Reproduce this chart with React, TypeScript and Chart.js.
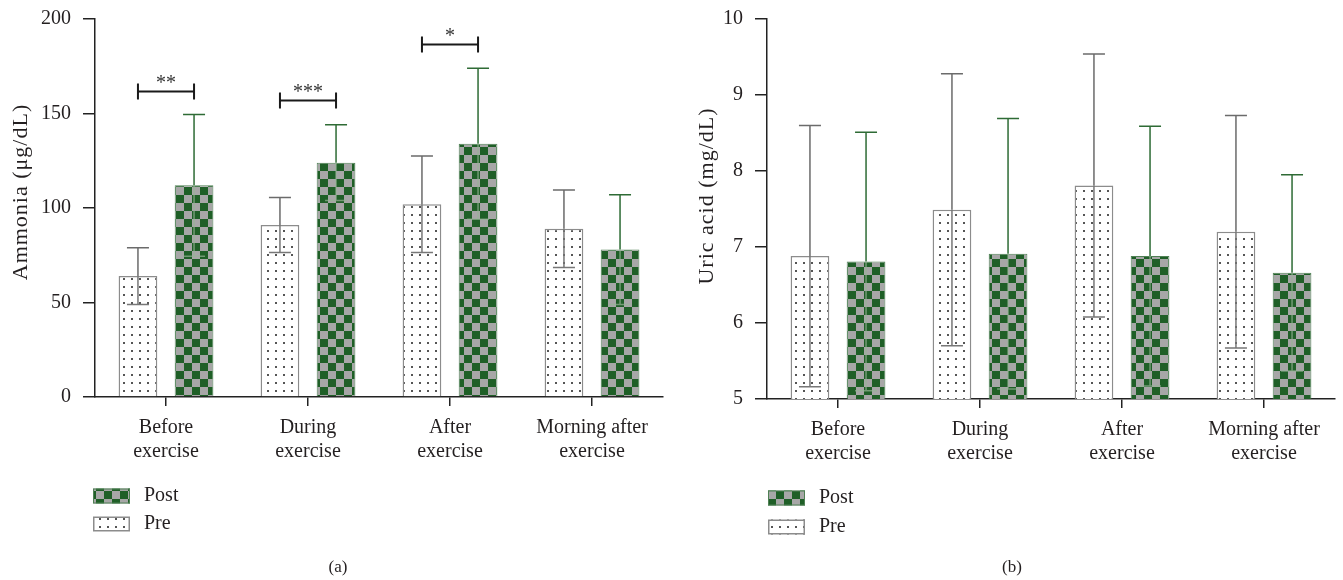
import React, { useEffect, useRef } from "react";
import { Chart, registerables } from "chart.js";
Chart.register(...registerables);

const FONT = '"Liberation Serif", "DejaVu Serif", serif';
const TXT = "#231f20";
const SHIFT = 5; // canvas is placed 5px above the page top

const categories = [
  ["Before", "exercise"],
  ["During", "exercise"],
  ["After", "exercise"],
  ["Morning after", "exercise"],
];

const ammoniaPre = [64, 91, 102, 89];
const ammoniaPreSD = [15, 14.5, 25.5, 20.5];
const ammoniaPost = [112, 124, 134, 78];
const ammoniaPostSD = [37.5, 20, 40, 29];
const ammoniaSigLabels = ["**", "***", "*", ""];
const ammoniaSigY = [162, 157, 187, 0];
const ammoniaTicks = [0, 50, 100, 150, 200];

const uricPre = [6.88, 7.49, 7.81, 7.2];
const uricPreSD = [1.72, 1.79, 1.73, 1.53];
const uricPost = [6.81, 6.91, 6.88, 6.66];
const uricPostSD = [1.7, 1.78, 1.71, 1.29];
const uricTicks = [5, 6, 7, 8, 9, 10];

const legendLabels = ["Post", "Pre"];

function makeChecker(): CanvasPattern | string {
  const c = document.createElement("canvas");
  c.width = 16;
  c.height = 16;
  const g = c.getContext("2d");
  if (!g) return "#1f5f27";
  g.fillStyle = "#1f5f27";
  g.fillRect(0, 0, 16, 16);
  g.fillStyle = "#a7a7a7";
  g.fillRect(0, 0, 8, 8);
  g.fillRect(8, 8, 8, 8);
  return g.createPattern(c, "repeat") || "#1f5f27";
}

function makeDots(): CanvasPattern | string {
  const c = document.createElement("canvas");
  c.width = 8;
  c.height = 8;
  const g = c.getContext("2d");
  if (!g) return "#fff";
  g.fillStyle = "#ffffff";
  g.fillRect(0, 0, 8, 8);
  g.fillStyle = "#555555";
  g.fillRect(3, 3, 2, 2);
  return g.createPattern(c, "repeat") || "#fff";
}

const errorBarPlugin = {
  id: "errorBars",
  afterDatasetsDraw(chart: any) {
    const ctx = chart.ctx;
    const ys = chart.scales.y;
    const area = chart.chartArea;
    ctx.save();
    ctx.beginPath();
    ctx.rect(area.left, 0, area.right - area.left, area.bottom);
    ctx.clip();
    chart.data.datasets.forEach((ds: any, i: number) => {
      const meta = chart.getDatasetMeta(i);
      meta.data.forEach((el: any, j: number) => {
        const v = ds.data[j];
        const e = ds.errors[j];
        const x = el.x;
        const yTop = ys.getPixelForValue(v + e);
        const yBot = ys.getPixelForValue(v - e);
        const yBar = ys.getPixelForValue(v);
        const half = 11;
        ctx.lineWidth = 1.5;
        ctx.strokeStyle = ds.errColor;
        ctx.beginPath();
        ctx.moveTo(x, yTop);
        ctx.lineTo(x, yBar);
        ctx.moveTo(x - half, yTop);
        ctx.lineTo(x + half, yTop);
        ctx.stroke();
        ctx.strokeStyle = ds.errInner;
        ctx.beginPath();
        ctx.moveTo(x, yBar);
        ctx.lineTo(x, yBot);
        ctx.moveTo(x - half, yBot);
        ctx.lineTo(x + half, yBot);
        ctx.stroke();
      });
    });
    ctx.restore();
  },
};

function makeTitlePlugin(text: string, cx: number, cy: number) {
  return {
    id: "yTitle",
    afterDraw(chart: any) {
      const ctx = chart.ctx;
      ctx.save();
      ctx.translate(cx, cy + SHIFT);
      ctx.rotate(-Math.PI / 2);
      ctx.fillStyle = TXT;
      ctx.font = `22px ${FONT}`;
      try {
        (ctx as any).letterSpacing = "1px";
      } catch (e) {}
      ctx.textAlign = "center";
      ctx.textBaseline = "middle";
      ctx.fillText(text, 0, 0);
      ctx.restore();
    },
  };
}

function makeSigPlugin(labels: string[], ys: number[]) {
  return {
    id: "sig",
    afterDatasetsDraw(chart: any) {
      const ctx = chart.ctx;
      const yScale = chart.scales.y;
      const m0 = chart.getDatasetMeta(0);
      const m1 = chart.getDatasetMeta(1);
      ctx.save();
      labels.forEach((lab, j) => {
        if (!lab) return;
        const x1 = m0.data[j].x;
        const x2 = m1.data[j].x;
        const y = Math.round(yScale.getPixelForValue(ys[j])) + 0.5;
        ctx.strokeStyle = "#1a1a1a";
        ctx.lineWidth = 2;
        ctx.beginPath();
        ctx.moveTo(x1, y);
        ctx.lineTo(x2, y);
        ctx.moveTo(x1, y - 8);
        ctx.lineTo(x1, y + 8);
        ctx.moveTo(x2, y - 8);
        ctx.lineTo(x2, y + 8);
        ctx.stroke();
        ctx.fillStyle = "#333";
        ctx.font = `20px ${FONT}`;
        ctx.textAlign = "center";
        ctx.textBaseline = "alphabetic";
        ctx.fillText(lab, (x1 + x2) / 2, y - 3);
      });
      ctx.restore();
    },
  };
}

function makeLegendPlugin(x: number, yPost0: number, yPre0: number, caption: string, capX: number) {
  return {
    id: "customLegend",
    afterDraw(chart: any) {
      const ctx = chart.ctx;
      const ds = chart.data.datasets;
      const yPost = yPost0 + SHIFT;
      const yPre = yPre0 + SHIFT;
      ctx.save();
      const w = 37;
      const h = 15;
      ctx.fillStyle = ds[1].backgroundColor;
      ctx.fillRect(x, yPost - h / 2, w, h);
      ctx.strokeStyle = "#4f8054";
      ctx.lineWidth = 1;
      ctx.strokeRect(x + 0.5, yPost - h / 2 + 0.5, w - 1, h - 1);
      ctx.fillStyle = ds[0].backgroundColor;
      ctx.fillRect(x, yPre - h / 2, w, h);
      ctx.strokeStyle = "#8c8c8c";
      ctx.lineWidth = 1.5;
      ctx.strokeRect(x + 0.75, yPre - h / 2 + 0.75, w - 1.5, h - 1.5);
      ctx.fillStyle = TXT;
      ctx.font = `20px ${FONT}`;
      ctx.textAlign = "left";
      ctx.textBaseline = "middle";
      ctx.fillText(legendLabels[0], x + 51, yPost);
      ctx.fillText(legendLabels[1], x + 51, yPre);
      ctx.font = `17px ${FONT}`;
      ctx.textAlign = "center";
      ctx.fillText(caption, capX, 568 + SHIFT);
      ctx.restore();
    },
  };
}

type PanelProps = {
  left: number;
  pre: number[];
  preSD: number[];
  post: number[];
  postSD: number[];
  ticks: number[];
  xHeight: number;
  plugins: any[];
};

function Panel(props: PanelProps) {
  const ref = useRef<HTMLCanvasElement | null>(null);
  useEffect(() => {
    const canvas = ref.current;
    if (!canvas) return;
    const checker = makeChecker();
    const dots = makeDots();
    const tickFont = { family: FONT, size: 20 };
    const chart = new Chart(canvas, {
      type: "bar",
      data: {
        labels: categories as any,
        datasets: [
          {
            label: "Pre",
            data: props.pre,
            backgroundColor: dots as any,
            borderColor: "#8c8c8c",
            borderWidth: 1.5,
            categoryPercentage: 0.79,
            barPercentage: 0.69,
            errors: props.preSD,
            errColor: "#6b6b6b",
            errInner: "#777777",
          } as any,
          {
            label: "Post",
            data: props.post,
            backgroundColor: checker as any,
            borderColor: "#4f8054",
            borderWidth: 1,
            categoryPercentage: 0.79,
            barPercentage: 0.69,
            errors: props.postSD,
            errColor: "#2e6b35",
            errInner: "rgba(150,180,150,0.7)",
          } as any,
        ],
      },
      options: {
        responsive: false,
        animation: false,
        events: [],
        layout: { padding: { top: 12, left: 10, right: 9, bottom: 110 } },
        plugins: { legend: { display: false }, tooltip: { enabled: false } },
        scales: {
          x: {
            grid: {
              display: true,
              drawOnChartArea: false,
              drawTicks: true,
              tickLength: 9,
              color: "#222",
              lineWidth: 1.5,
              offset: false,
            },
            border: { color: "#222", width: 1.5 },
            ticks: { font: tickFont, color: TXT, padding: 10, maxRotation: 0, autoSkip: false },
            afterFit: (s: any) => {
              s.height = props.xHeight;
            },
          },
          y: {
            min: props.ticks[0],
            max: props.ticks[props.ticks.length - 1],
            afterBuildTicks: (s: any) => {
              s.ticks = props.ticks.map((v) => ({ value: v }));
            },
            ticks: { font: tickFont, color: TXT, padding: 12 },
            grid: {
              drawOnChartArea: false,
              drawTicks: true,
              tickLength: 12,
              color: "#222",
              lineWidth: 1.5,
            },
            border: { color: "#222", width: 1.5 },
            title: { display: false },
            afterFit: (s: any) => {
              s.width = 85;
            },
          },
        },
      } as any,
      plugins: [errorBarPlugin, ...props.plugins],
    });
    return () => chart.destroy();
  }, []);
  return (
    <canvas
      ref={ref}
      width={672}
      height={585}
      style={{ position: "absolute", left: props.left, top: -SHIFT, width: 672, height: 585 }}
    />
  );
}

export default function App() {
  return (
    <div style={{ position: "absolute", left: 0, top: 0, width: 1343, height: 580, background: "#fff", overflow: "hidden" }}>
      <Panel
        left={0}
        pre={ammoniaPre}
        preSD={ammoniaPreSD}
        post={ammoniaPost}
        postSD={ammoniaPostSD}
        ticks={ammoniaTicks}
        xHeight={73}
        plugins={[
          makeSigPlugin(ammoniaSigLabels, ammoniaSigY),
          makeLegendPlugin(93, 496, 524, "(a)", 338),
          makeTitlePlugin("Ammonia (μg/dL)", 21, 192),
        ]}
      />
      <Panel
        left={672}
        pre={uricPre}
        preSD={uricPreSD}
        post={uricPost}
        postSD={uricPostSD}
        ticks={uricTicks}
        xHeight={71}
        plugins={[makeLegendPlugin(96, 498, 527, "(b)", 340), makeTitlePlugin("Uric acid (mg/dL)", 35, 196)]}
      />
    </div>
  );
}
